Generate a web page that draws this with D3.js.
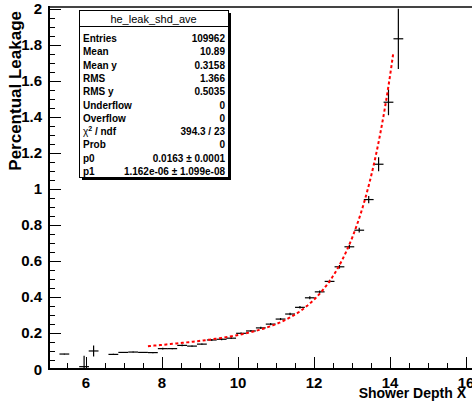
<!DOCTYPE html>
<html><head><meta charset="utf-8">
<script src="https://cdn.jsdelivr.net/npm/d3@7"></script>
<style>
html,body{margin:0;padding:0;background:#fff;}
svg{display:block;}
text{font-family:"Liberation Sans",Arial,sans-serif;font-weight:bold;fill:#000;}
</style></head>
<body><svg id="c" width="472" height="407"></svg>
<script>
// ---- data ----
const binCenters = [5.43, 5.95, 6.20, 6.72, 6.98, 7.24, 7.50, 7.76, 8.02, 8.27, 8.53, 8.79, 9.05, 9.31, 9.57, 9.82, 10.08, 10.34, 10.60, 10.86, 11.12, 11.37, 11.63, 11.89, 12.15, 12.41, 12.67, 12.93, 13.19, 13.44, 13.70, 13.96, 14.22];
const binValues  = [0.083, 0.013, 0.100, 0.081, 0.092, 0.094, 0.092, 0.091, 0.113, 0.113, 0.131, 0.127, 0.138, 0.161, 0.165, 0.171, 0.198, 0.211, 0.228, 0.249, 0.277, 0.305, 0.342, 0.395, 0.428, 0.486, 0.567, 0.678, 0.770, 0.940, 1.136, 1.480, 1.832];
const binErrors  = [0.002, 0.060, 0.030, 0.004, 0.003, 0.003, 0.003, 0.003, 0.005, 0.004, 0.005, 0.004, 0.004, 0.005, 0.005, 0.005, 0.005, 0.005, 0.006, 0.006, 0.006, 0.007, 0.007, 0.008, 0.008, 0.009, 0.010, 0.011, 0.013, 0.020, 0.039, 0.072, 0.167];
const binHalfWidth = 0.129;
const fitParams = {p0: 0.0163, p1: 1.162e-6};
const fitRange = [7.63, 14.09];
const xTicks = [6, 8, 10, 12, 14, 16];
const yTicks = [0, 0.2, 0.4, 0.6, 0.8, 1, 1.2, 1.4, 1.6, 1.8, 2];
const statLabels = ["Entries", "Mean", "Mean y", "RMS", "RMS y", "Underflow", "Overflow", "χ² / ndf", "Prob", "p0", "p1"];
const statValues = ["109962", "10.89", "0.3158", "1.366", "0.5035", "0", "0", "394.3 / 23", "0", "0.0163 ± 0.0001", "1.162e-06 ± 1.099e-08"];
const histName = "he_leak_shd_ave";
const xTitle = "Shower Depth X";
const yTitle = "Percentual Leakage";

// ---- layout ----
const svg = d3.select("#c");
const L = 49, T = 7, B = 369, R = 474;
const x = d3.scaleLinear().domain([5, 16.2]).range([48, 48 + 11.2 * 38]);
const y = d3.scaleLinear().domain([0, 2]).range([369, 8.5]);

svg.append("defs").append("clipPath").attr("id", "fr")
  .append("rect").attr("x", L).attr("y", T).attr("width", R - L).attr("height", B - T);

const gy = svg.append("g");
d3.range(0, 2.0001, 0.05).forEach(v => {
  const major = Math.abs(v / 0.2 - Math.round(v / 0.2)) < 1e-6;
  gy.append("line").attr("x1", L).attr("x2", L + (major ? 12 : 6))
    .attr("y1", Math.round(y(v)) + 0.5).attr("y2", Math.round(y(v)) + 0.5)
    .attr("stroke", "#000").attr("stroke-width", 1);
});
yTicks.forEach(v => {
  svg.append("text").attr("x", 42).attr("y", y(v) + 5.5).attr("text-anchor", "end")
    .style("font-size", "15px").attr("textLength", null).text(d3.format("~g")(v));
});
const gx = svg.append("g");
d3.range(5, 16.2, 0.5).forEach(v => {
  const major = Math.abs(v / 2 - Math.round(v / 2)) < 1e-6;
  gx.append("line").attr("x1", Math.round(x(v)) + 0.5).attr("x2", Math.round(x(v)) + 0.5)
    .attr("y1", B).attr("y2", B - (major ? 12 : 6))
    .attr("stroke", "#000").attr("stroke-width", 1);
});
xTicks.forEach(v => {
  svg.append("text").attr("x", x(v)).attr("y", 388).attr("text-anchor", "middle")
    .style("font-size", "15px").text(v);
});

// frame
svg.append("line").attr("x1", L).attr("x2", 472).attr("y1", T).attr("y2", T)
  .attr("stroke", "#444").attr("stroke-width", 2);
svg.append("line").attr("x1", L).attr("x2", L).attr("y1", T - 1).attr("y2", B + 1)
  .attr("stroke", "#000").attr("stroke-width", 2);
svg.append("line").attr("x1", L - 1).attr("x2", 472).attr("y1", B).attr("y2", B)
  .attr("stroke", "#000").attr("stroke-width", 2);

// data points
const gp = svg.append("g").attr("clip-path", "url(#fr)");
binCenters.forEach((c, i) => {
  const v = binValues[i], e = binErrors[i];
  gp.append("line").attr("x1", x(c - binHalfWidth)).attr("x2", x(c + binHalfWidth))
    .attr("y1", y(v)).attr("y2", y(v)).attr("stroke", "#000").attr("stroke-width", 1.2);
  gp.append("line").attr("x1", x(c)).attr("x2", x(c))
    .attr("y1", y(v - e)).attr("y2", y(v + e)).attr("stroke", "#000").attr("stroke-width", 1.2);
});

// fit curve
const fitX = d3.range(fitRange[0], fitRange[1] + 1e-9, (fitRange[1] - fitRange[0]) / 120);
const line = d3.line().x(d => x(d)).y(d => y(fitParams.p0 * d + fitParams.p1 * Math.exp(d)));
svg.append("path").attr("d", line(fitX)).attr("fill", "none")
  .attr("stroke", "#ff0000").attr("stroke-width", 2).attr("stroke-dasharray", "3,2.5");

// titles
svg.append("text").attr("x", 466).attr("y", 398).attr("text-anchor", "end")
  .style("font-size", "14px").text(xTitle);
svg.append("text").attr("transform", "translate(21,11) rotate(-90)").attr("text-anchor", "end")
  .style("font-size", "17px").text(yTitle);

// stats box
const bx = 79, by = 10, bw = 149, bh = 167;
svg.append("rect").attr("x", bx + 3).attr("y", by + 3).attr("width", bw).attr("height", bh).attr("fill", "#000");
svg.append("rect").attr("x", bx + 0.5).attr("y", by + 0.5).attr("width", bw).attr("height", bh)
  .attr("fill", "#fff").attr("stroke", "#000").attr("stroke-width", 1);
svg.append("line").attr("x1", bx).attr("x2", bx + bw).attr("y1", by + 16.5).attr("y2", by + 16.5)
  .attr("stroke", "#000").attr("stroke-width", 1);
svg.append("text").attr("x", bx + bw / 2).attr("y", by + 12.5).attr("text-anchor", "middle")
  .style("font-size", "11px").style("font-weight", "normal").text(histName);
statLabels.forEach((s, i) => {
  const yy = 42 + i * 13.3;
  const t = svg.append("text").attr("x", bx + 4).attr("y", yy).style("font-size", "10px");
  if (s.startsWith("χ")) {
    t.append("tspan").style("font-weight", "normal").text("χ");
    t.append("tspan").attr("dy", -4).style("font-size", "7px").text("2");
    t.append("tspan").attr("dy", 4).text(" / ndf");
  } else t.text(s);
  svg.append("text").attr("x", bx + bw - 3).attr("y", yy).attr("text-anchor", "end")
    .style("font-size", "10px").text(statValues[i]);
});
</script></body></html>
